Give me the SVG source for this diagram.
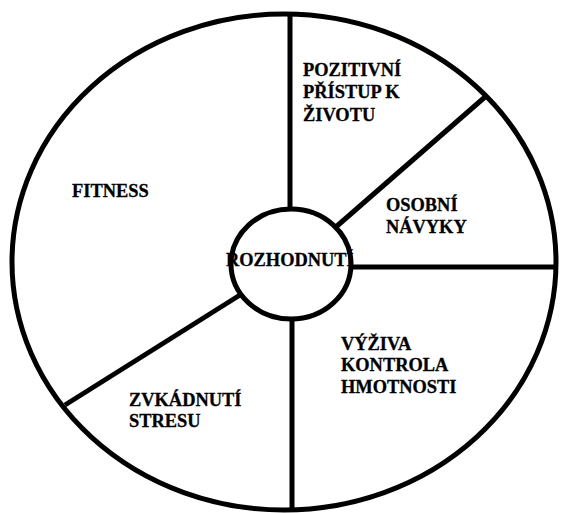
<svg xmlns="http://www.w3.org/2000/svg" width="561" height="513" viewBox="0 0 561 513">
<style>
.shape{fill:none;stroke:#000;stroke-width:5}
.ln{stroke:#000;stroke-width:5;fill:none}
text{font-family:"Liberation Serif","Times New Roman",serif;font-weight:bold;font-size:18.4px;fill:#000;stroke:#000;stroke-width:0.3}
</style>
<rect width="561" height="513" fill="#fff"/>
<g id="outer">
<ellipse class="shape" cx="284" cy="262" rx="272" ry="248"/>
</g>
<g id="connectors">
<line class="ln" x1="290" y1="14" x2="290" y2="209"/>
<line class="ln" x1="292" y1="319" x2="292" y2="510"/>
<line class="ln" x1="337" y1="226" x2="485" y2="97"/>
<line class="ln" x1="351" y1="267" x2="556" y2="267"/>
<line class="ln" x1="240" y1="295" x2="65" y2="405"/>
</g>
<g id="center">
<ellipse class="shape" cx="291" cy="264" rx="60" ry="55"/>
<text x="226" y="266">ROZHODNUTÍ</text>
</g>
<g id="pozitivni">
<text x="303" y="76">POZITIVNÍ</text>
<text x="303" y="98">PŘÍSTUP K</text>
<text x="303" y="121">ŽIVOTU</text>
</g>
<g id="fitness">
<text x="72" y="197">FITNESS</text>
</g>
<g id="osobni">
<text x="386" y="211">OSOBNÍ</text>
<text x="386" y="233">NÁVYKY</text>
</g>
<g id="vyziva">
<text x="341" y="350">VÝŽIVA</text>
<text x="341" y="371">KONTROLA</text>
<text x="341" y="393">HMOTNOSTI</text>
</g>
<g id="stres">
<text x="129" y="406">ZVKÁDNUTÍ</text>
<text x="129" y="427">STRESU</text>
</g>
</svg>
